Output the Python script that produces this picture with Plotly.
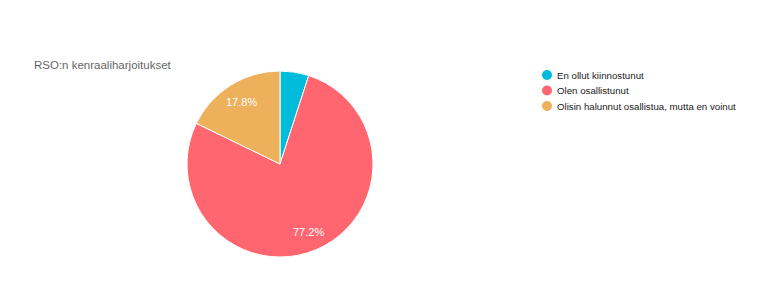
import math
import plotly.graph_objects as go

title_text = "RSO:n kenraaliharjoitukset"
labels = ["En ollut kiinnostunut", "Olen osallistunut", "Olisin halunnut osallistua, mutta en voinut"]
values = [5.0, 77.2, 17.8]
colors = ["#00BCDB", "#FF6670", "#EDB05B"]
show_label = [False, True, True]

W, H = 776, 298
cx, cy, r = 280, 164, 93
FONT = "Liberation Sans, Arial, sans-serif"

fig = go.Figure()
fig.add_trace(go.Pie(
    labels=labels, values=values, sort=False, direction="clockwise", rotation=0,
    marker=dict(colors=colors, line=dict(color="white", width=1)),
    textinfo="none", showlegend=False, hoverinfo="label+percent",
    domain=dict(x=[(cx - r) / W, (cx + r) / W], y=[1 - (cy + r) / H, 1 - (cy - r) / H]),
))

annotations = [dict(text=title_text, x=32 / W, y=1 - 65 / H, xref="paper", yref="paper",
                    xanchor="left", yanchor="middle", showarrow=False,
                    font=dict(size=11.5, color="#666666", family=FONT))]

# slice percentage labels at ~0.79 of the radius, along each slice's mid-angle
total = sum(values)
cum = 0.0
for v, s in zip(values, show_label):
    mid = (cum + v / 2) / total * 2 * math.pi
    cum += v
    if not s:
        continue
    px = cx + 0.79 * r * math.sin(mid)
    py = cy - 0.79 * r * math.cos(mid)
    annotations.append(dict(text=f"{v / total * 100:.1f}%", x=px / W, y=1 - py / H,
                            xref="paper", yref="paper", showarrow=False,
                            xanchor="center", yanchor="middle",
                            font=dict(size=11, color="white", family=FONT)))

# legend rows
shapes = []
lx, ly0, dy = 547, 75, 15.5
for i, (lab, col) in enumerate(zip(labels, colors)):
    yy = ly0 + i * dy
    shapes.append(dict(type="circle", xref="paper", yref="paper",
                       x0=(lx - 5) / W, x1=(lx + 5) / W, y0=1 - (yy + 5) / H, y1=1 - (yy - 5) / H,
                       fillcolor=col, line=dict(width=0)))
    annotations.append(dict(text=lab, x=(lx + 8) / W, y=1 - yy / H, xref="paper", yref="paper",
                            xanchor="left", yanchor="middle", showarrow=False,
                            font=dict(size=9.7, color="#222222", family=FONT)))

fig.update_layout(
    width=W, height=H, margin=dict(l=0, r=0, t=0, b=0),
    paper_bgcolor="white", plot_bgcolor="white",
    font=dict(family=FONT, size=11, color="#333333"),
    showlegend=False, shapes=shapes, annotations=annotations,
)
fig.write_html("out.html")
